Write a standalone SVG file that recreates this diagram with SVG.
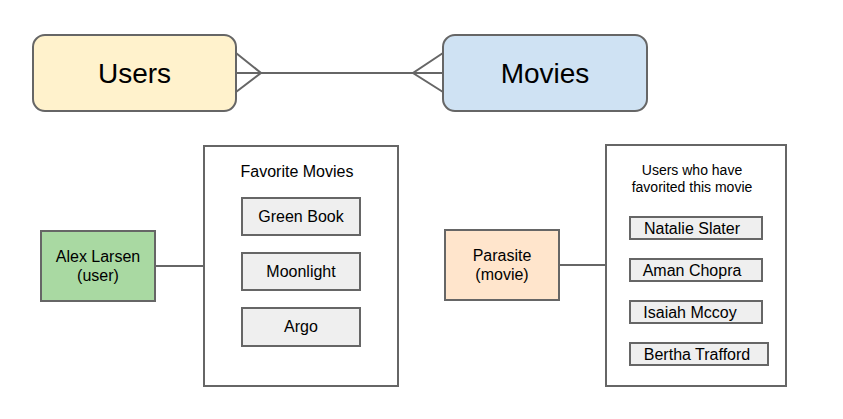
<svg xmlns="http://www.w3.org/2000/svg" width="843" height="419" viewBox="0 0 843 419">
<style>
text{font-family:Arial,"Liberation Sans",sans-serif;fill:#000;text-anchor:middle}
.s{stroke:#666;stroke-width:2;fill:none}
.box{stroke:#666;stroke-width:2}
.item{fill:#efefef;stroke:#666;stroke-width:2}
.big{font-size:28px}
.m{font-size:16px}
.sm{font-size:14px}
</style>
<rect width="843" height="419" fill="#fff"/>
<g id="connectors">
<path class="s" d="M236 73H443"/>
<path class="s" d="M236 53L261 73L236 92"/>
<path class="s" d="M443 53L413 73L443 92"/>
<path class="s" d="M155 266H204"/>
<path class="s" d="M559 265H606"/>
</g>
<g id="users">
<rect class="box" x="33" y="35" width="203" height="76" rx="12" fill="#fff2cc"/>
<text class="big" x="134.5" y="83">Users</text>
</g>
<g id="movies">
<rect class="box" x="443" y="35" width="204" height="76" rx="12" fill="#cfe2f3"/>
<text class="big" x="545" y="83">Movies</text>
</g>
<g id="alex">
<rect class="box" x="41" y="231" width="114" height="70" fill="#a9d9a2"/>
<text class="m" x="98" y="262">Alex Larsen</text>
<text class="m" x="98" y="281">(user)</text>
</g>
<g id="favorites">
<rect class="box" x="204" y="146" width="194" height="240" fill="#fff"/>
<text class="m" x="297" y="177">Favorite Movies</text>
</g>
<g id="greenbook">
<rect class="item" x="242" y="198" width="118" height="37"/>
<text class="m" x="301" y="222">Green Book</text>
</g>
<g id="moonlight">
<rect class="item" x="242" y="253" width="118" height="37"/>
<text class="m" x="301" y="277">Moonlight</text>
</g>
<g id="argo">
<rect class="item" x="242" y="308" width="118" height="38"/>
<text class="m" x="301" y="332">Argo</text>
</g>
<g id="parasite">
<rect class="box" x="445" y="230" width="114" height="70" fill="#ffe5cc"/>
<text class="m" x="502" y="261">Parasite</text>
<text class="m" x="502" y="280">(movie)</text>
</g>
<g id="fans">
<rect class="box" x="606" y="145" width="180" height="241" fill="#fff"/>
<text class="sm" x="692" y="175">Users who have</text>
<text class="sm" x="692" y="192">favorited this movie</text>
</g>
<g id="natalie">
<rect class="item" x="630" y="217" width="132" height="22"/>
<text class="m" x="692" y="234">Natalie Slater</text>
</g>
<g id="aman">
<rect class="item" x="630" y="259" width="132" height="22"/>
<text class="m" x="692" y="276">Aman Chopra</text>
</g>
<g id="isaiah">
<rect class="item" x="630" y="301" width="132" height="22"/>
<text class="m" x="690" y="318">Isaiah Mccoy</text>
</g>
<g id="bertha">
<rect class="item" x="630" y="343" width="138" height="22"/>
<text class="m" x="697" y="360">Bertha Trafford</text>
</g>
</svg>
